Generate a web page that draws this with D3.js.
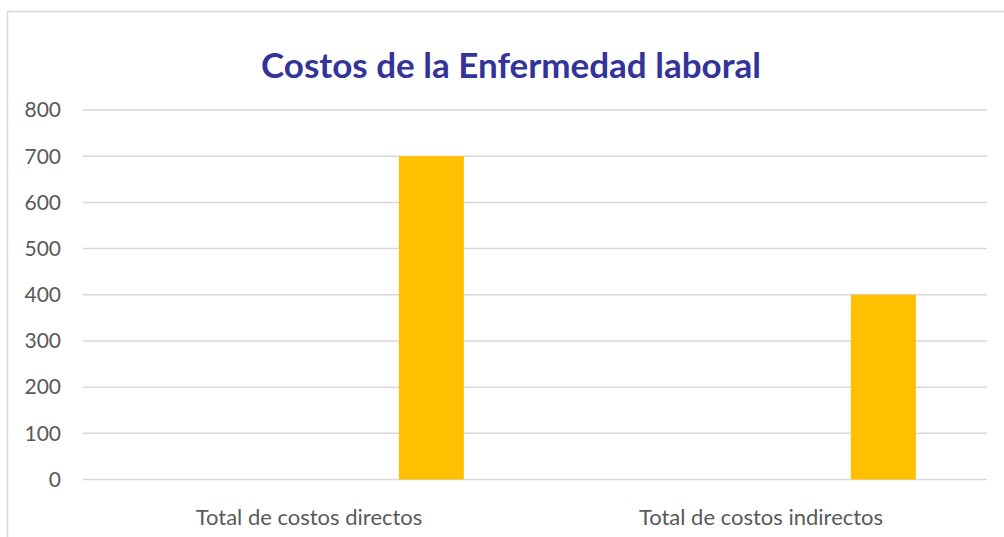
<!DOCTYPE html>
<html>
<head>
<meta charset="utf-8">
<script src="https://cdn.jsdelivr.net/npm/d3@7"></script>
<style>
  body { margin: 0; background: #fff; }
  svg { display: block; }
</style>
</head>
<body>
<div id="chart"></div>
<script>
// Chart data
const categories = ["Total de costos directos", "Total de costos indirectos"];
// Excel sheet had empty series before the visible one, which pushes the bar right
const seriesNames = ["Serie 1", "Serie 2", "Serie 3", "Serie 4", "Costo"];
const seriesValues = [
  [null, null],
  [null, null],
  [null, null],
  [null, null],
  [700, 400]
];
const yTicks = [0, 100, 200, 300, 400, 500, 600, 700, 800];
const chartTitle = "Costos de la Enfermedad laboral";

const width = 1004, height = 537;
const margin = { top: 110, right: 17, bottom: 57.5, left: 83 };

const svg = d3.select("#chart")
  .append("svg")
  .attr("width", width)
  .attr("height", height);

// chart frame (extends past the window on the right/bottom)
svg.append("rect")
  .attr("x", 7.5).attr("y", 11.5)
  .attr("width", 1100).attr("height", 600)
  .attr("fill", "#fff")
  .attr("stroke", "#d9d9d9")
  .attr("stroke-width", 1.5);

svg.append("text")
  .attr("x", 511)
  .attr("y", 78)
  .attr("text-anchor", "middle")
  .style("font-family", "Lato, 'Open Sans', sans-serif")
  .style("font-size", "35px")
  .style("font-weight", "700")
  .style("fill", "#333399")
  .text(chartTitle);

const x0 = d3.scaleBand()
  .domain(categories)
  .range([margin.left, width - margin.right]);

const x1 = d3.scaleBand()
  .domain(seriesNames)
  .range([0, x0.bandwidth()])
  .paddingInner(0)
  .paddingOuter(0.977)
  .align(0.44);

const y = d3.scaleLinear()
  .domain([0, 800])
  .range([height - margin.bottom, margin.top]);

// gridlines
svg.append("g")
  .selectAll("line")
  .data(yTicks)
  .enter().append("line")
  .attr("x1", margin.left)
  .attr("x2", width - margin.right)
  .attr("y1", d => y(d))
  .attr("y2", d => y(d))
  .attr("stroke", "#d9d9d9")
  .attr("stroke-width", 1.5);

// y labels
svg.append("g")
  .selectAll("text")
  .data(yTicks)
  .enter().append("text")
  .attr("x", 61)
  .attr("y", d => y(d))
  .attr("dy", "0.35em")
  .attr("text-anchor", "end")
  .style("font-family", "Lato, 'Open Sans', sans-serif")
  .style("font-size", "21px")
  .style("fill", "#595959")
  .text(d => d);

// bars
const barData = [];
seriesNames.forEach((s, si) => {
  categories.forEach((c, ci) => {
    const v = seriesValues[si][ci];
    if (v != null) barData.push({ series: s, category: c, value: v });
  });
});

svg.append("g")
  .selectAll("rect")
  .data(barData)
  .enter().append("rect")
  .attr("x", d => x0(d.category) + x1(d.series))
  .attr("y", d => y(d.value))
  .attr("width", x1.bandwidth())
  .attr("height", d => y(0) - y(d.value))
  .attr("fill", "#ffc000");

// x labels
svg.append("g")
  .selectAll("text")
  .data(categories)
  .enter().append("text")
  .attr("x", d => x0(d) + x0.bandwidth() / 2)
  .attr("y", 525)
  .attr("text-anchor", "middle")
  .style("font-family", "Lato, 'Open Sans', sans-serif")
  .style("font-size", "22px")
  .style("fill", "#595959")
  .text(d => d);
</script>
</body>
</html>
